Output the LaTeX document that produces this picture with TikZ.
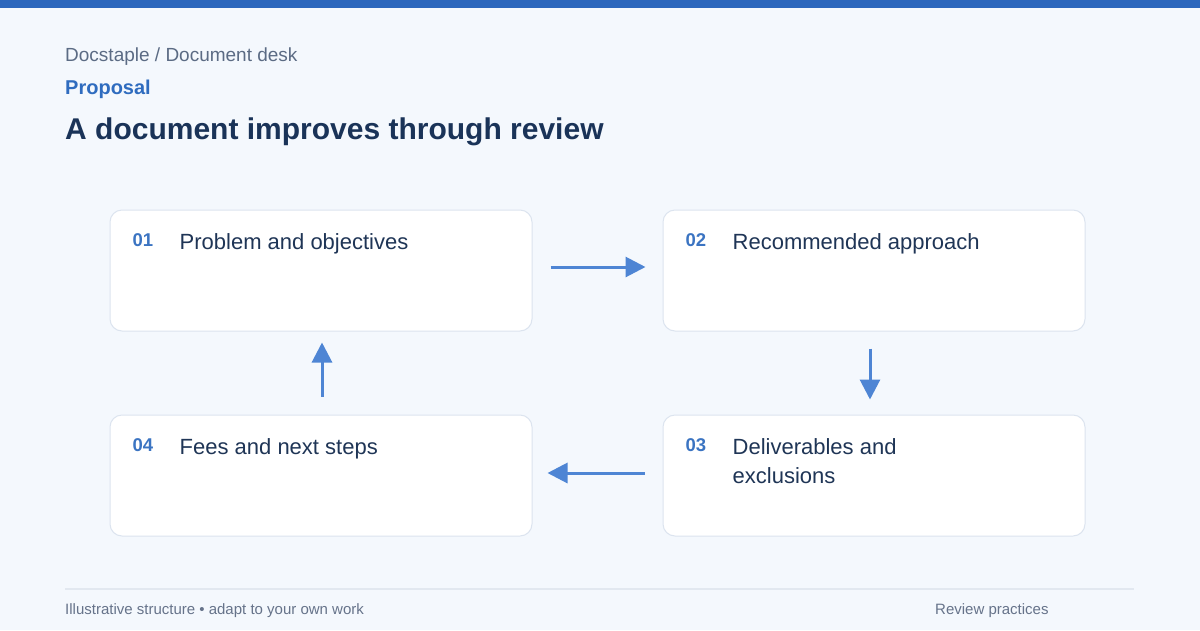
\documentclass[tikz,border=0pt]{standalone}
\usepackage{fontspec}
\setmainfont{Liberation Sans}
\usetikzlibrary{positioning, arrows.meta, calc}

\definecolor{pagebg}{HTML}{F4F8FD}
\definecolor{topbar}{HTML}{2C67BD}
\definecolor{crumbcol}{HTML}{5B6B84}
\definecolor{kickercol}{HTML}{2F6CBF}
\definecolor{titlecol}{HTML}{1A3358}
\definecolor{boxline}{HTML}{DCE4EF}
\definecolor{numcol}{HTML}{3B74C2}
\definecolor{labelcol}{HTML}{1F3556}
\definecolor{flowcol}{HTML}{4E85D4}
\definecolor{rulecol}{HTML}{E2E8F0}
\definecolor{footcol}{HTML}{66738A}

\tikzset{
    stage/.style={draw=boxline, line width=1pt, fill=white, rounded corners=12pt,
        minimum width=422pt, minimum height=121pt, inner sep=0pt},
    stagenum/.style={font=\fontsize{18.5}{22}\selectfont\bfseries, text=numcol, inner sep=0pt, anchor=base west},
    stagetext/.style={font=\fontsize{22}{28.5}\selectfont, text=labelcol, inner sep=0pt, anchor=base west},
    flow/.style={draw=flowcol, line width=3pt, -{Triangle[length=20pt,width=20pt]}},
}

\begin{document}
\begin{tikzpicture}[x=1pt, y=-1pt]
    % page
    \fill[pagebg] (0,0) rectangle (1200,630);
    \useasboundingbox (0,0) rectangle (1200,630);
    \fill[topbar] (0,0) rectangle (1200,8);

    % header
    \node[anchor=base west, inner sep=0pt, text=crumbcol, font=\fontsize{19}{22}\selectfont] (crumb) at (65,61) {Docstaple / Document desk};
    \node[anchor=base west, inner sep=0pt, text=kickercol, font=\fontsize{20}{24}\selectfont\bfseries] (kicker) at (65,94) {Proposal};
    \node[anchor=base west, inner sep=0pt, text=titlecol, font=\fontsize{30}{36}\selectfont\bfseries] (title) at (65,139) {A document improves through review};

    % stages
    \foreach \n/\x/\y/\lbl in {1/321/270.5/Problem and objectives,
                               2/874/270.5/Recommended approach,
                               3/874/475.5/Deliverables and\\exclusions,
                               4/321/475.5/Fees and next steps} {
        \node[stage] (b\n) at (\x,\y) {};
        \node[stagenum] (n\n) at ($(b\n.north west)+(23,37)$) {0\n};
        \node[stagetext] (t\n) at ($(b\n.north west)+(70,40)$)
            {\begin{tabular}[t]{@{}l@{}}\lbl\end{tabular}};
    }

    % cycle
    \draw[flow, shorten <=18pt, shorten >=17pt] ([yshift=3.5pt]b1.east) -- ([yshift=3.5pt]b2.west);
    \draw[flow, shorten <=17pt, shorten >=15pt] ([xshift=-4pt]b2.south) -- ([xshift=-4pt]b3.north);
    \draw[flow, shorten <=18pt, shorten >=15pt] ([yshift=2.5pt]b3.west) -- ([yshift=2.5pt]b4.east);
    \draw[flow, shorten <=18pt, shorten >=11pt] ([xshift=1pt]b4.north) -- ([xshift=1pt]b1.south);

    % footer
    \coordinate (rulea) at (65,589);
    \coordinate (ruleb) at (1134,589);
    \draw[rulecol, line width=2pt] (rulea) -- (ruleb);
    \node[anchor=base west, inner sep=0pt, text=footcol, font=\fontsize{15}{18}\selectfont] (footl) at (65,614) {Illustrative structure • adapt to your own work};
    \node[anchor=base west, inner sep=0pt, text=footcol, font=\fontsize{15}{18}\selectfont] (footr) at (935,614) {Review practices};
\end{tikzpicture}
\end{document}
